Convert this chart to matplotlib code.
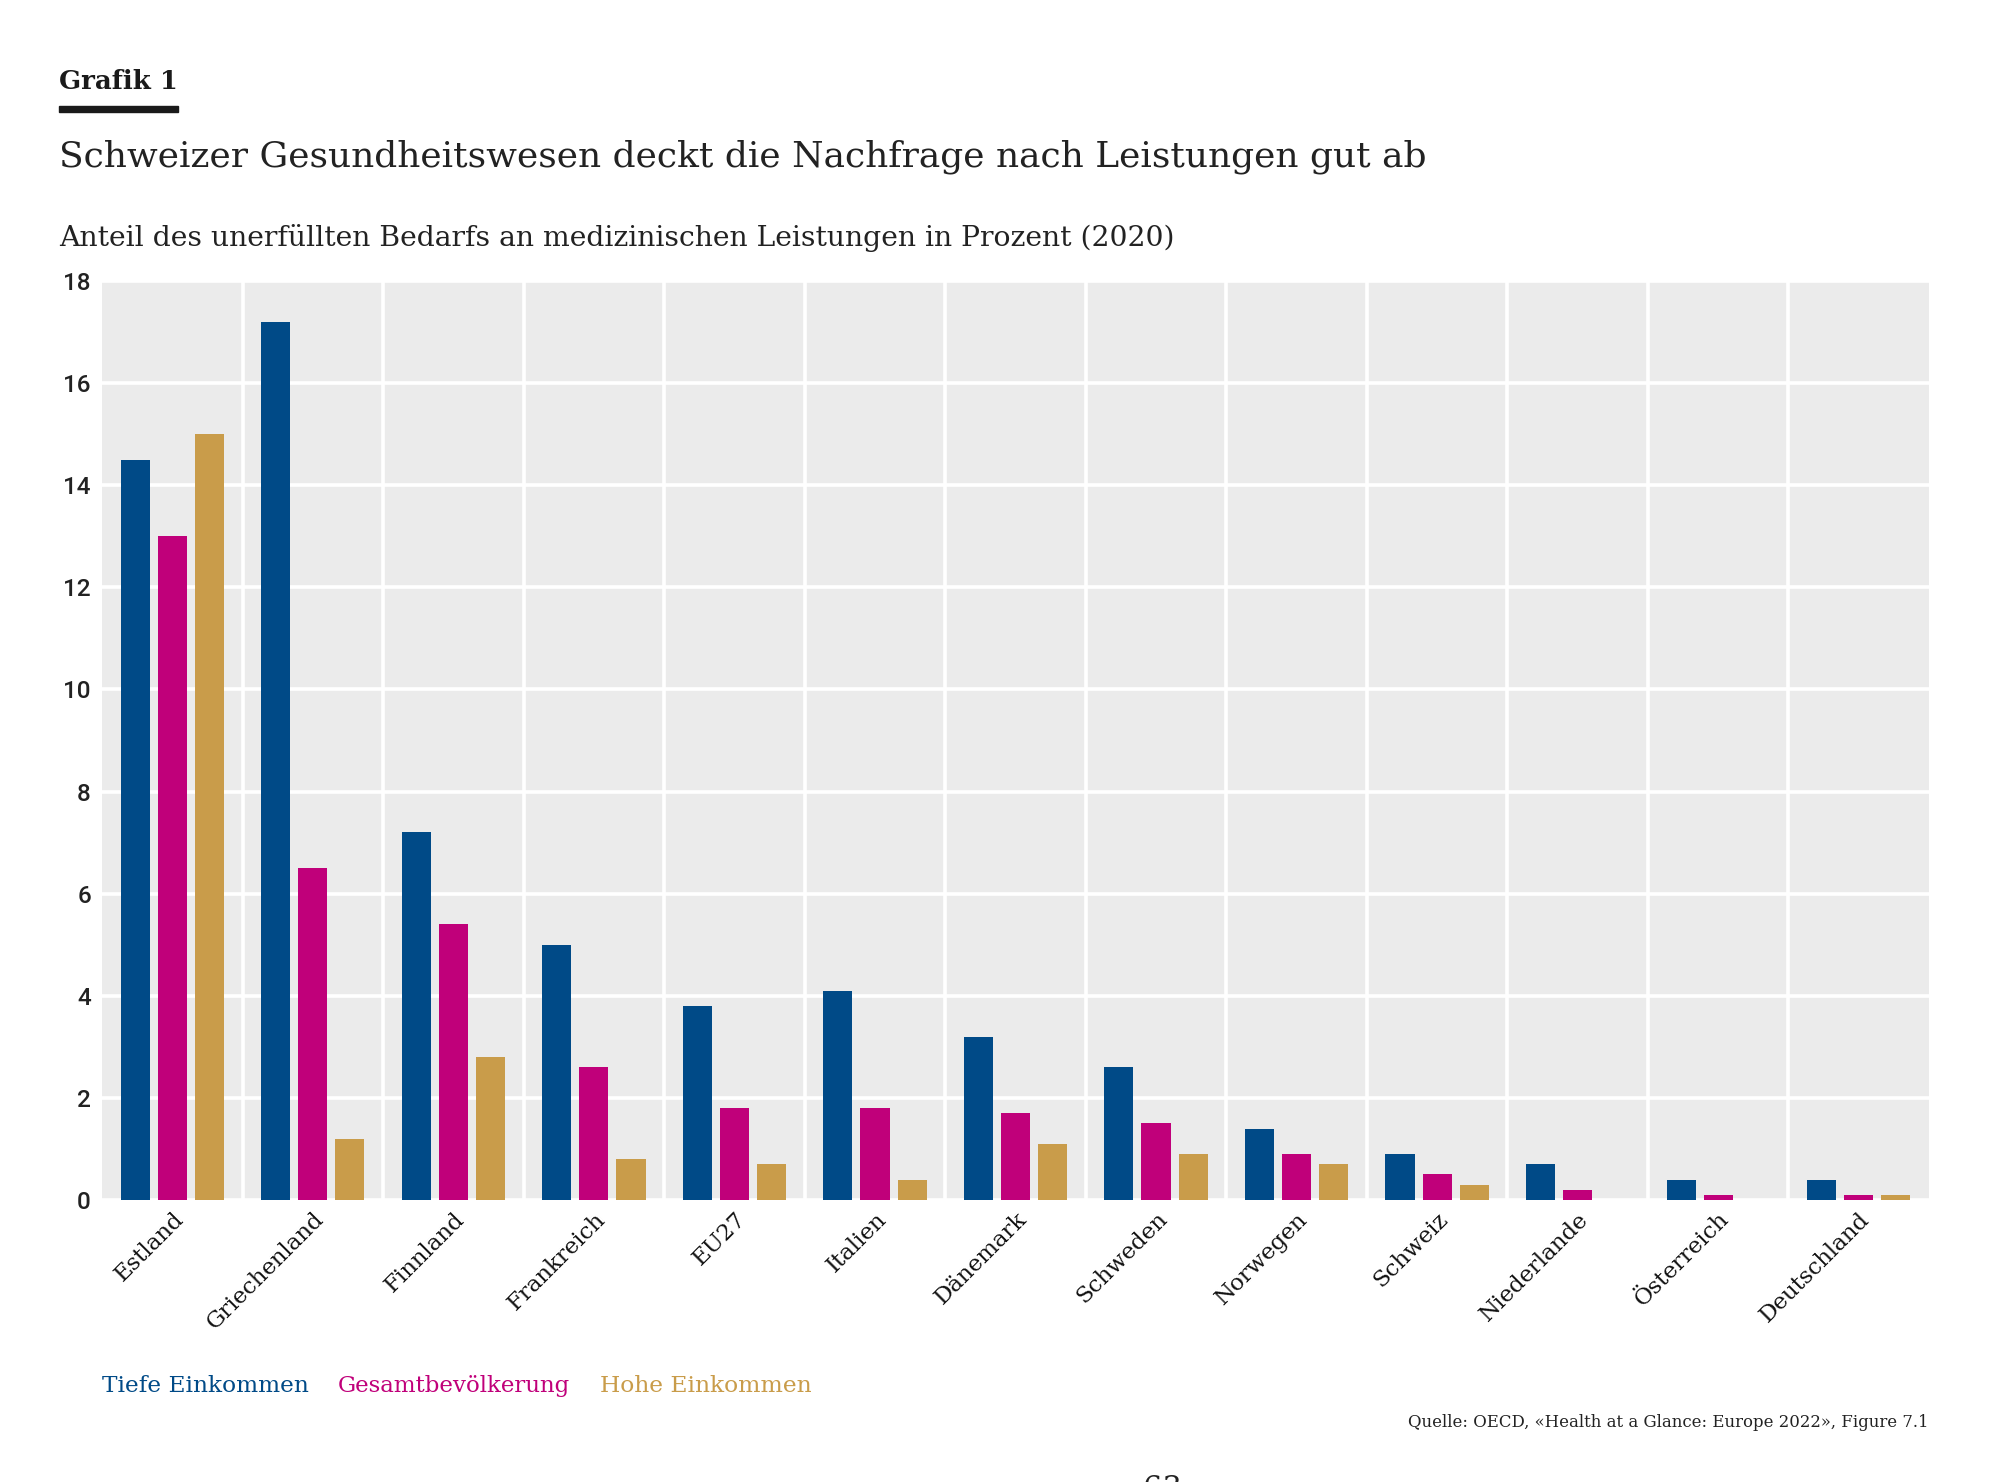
import numpy as np
from matplotlib import pyplot as plt
from matplotlib.transforms import ScaledTranslation

# data
countries = ['Estland', 'Griechenland', 'Finnland', 'Frankreich', 'EU27', 'Italien',
             'Dänemark', 'Schweden', 'Norwegen', 'Schweiz', 'Niederlande',
             'Österreich', 'Deutschland']
tiefe = [14.5, 17.2, 7.2, 5.0, 3.8, 4.1, 3.2, 2.6, 1.4, 0.9, 0.7, 0.4, 0.4]
gesamt = [13.0, 6.5, 5.4, 2.6, 1.8, 1.8, 1.7, 1.5, 0.9, 0.5, 0.2, 0.1, 0.1]
hohe = [15.0, 1.2, 2.8, 0.8, 0.7, 0.4, 1.1, 0.9, 0.7, 0.3, 0.0, 0.0, 0.1]
series_names = ['Tiefe Einkommen', 'Gesamtbevölkerung', 'Hohe Einkommen']
colors = ['#004a87', '#c0007a', '#c99c4a']
y_ticks = list(range(0, 19, 2))

W, H = 2000, 1482
SERIF = ['DejaVu Serif']
SANS = ['Roboto', 'DejaVu Sans']

fig = plt.figure(figsize=(W / 100, H / 100), dpi=100)
renderer = fig.canvas.get_renderer()


def px(x, y):
    return x / W, 1 - y / H


def fit_text(x, y, s, width, ha='left', **kw):
    t = fig.text(*px(x, y), s, ha=ha, va='baseline', **kw)
    w = t.get_window_extent(renderer).width
    t.set_fontsize(t.get_fontsize() * width / w)
    return t


ax = fig.add_axes([102 / W, 1 - 1200 / H, (1929 - 102) / W, (1200 - 281) / H])
ax.set_facecolor('#ebebeb')

x = np.arange(len(countries))
offsets = [-0.264, 0.0, 0.264]
for vals, off, col, name in zip([tiefe, gesamt, hohe], offsets, colors, series_names):
    ax.bar(x + off, vals, width=0.207, color=col, label=name, zorder=3)

ax.set_xlim(-0.5, len(countries) - 0.5)
ax.set_ylim(0, 18)
ax.set_yticks(y_ticks)
ax.set_yticklabels([str(v) for v in y_ticks], family=SANS, fontsize=17.5,
                   fontweight='medium', color='#222222')
ax.set_xticks(x)
ax.set_xticklabels(countries, rotation=45, ha='right', rotation_mode='anchor',
                   family=SERIF, fontsize=16.5, color='#111111')
shift = ScaledTranslation(-6 / 100, 0, fig.dpi_scale_trans)
for lab in ax.get_xticklabels():
    lab.set_transform(lab.get_transform() + shift)
ax.set_xticks(x[:-1] + 0.5, minor=True)
ax.tick_params(axis='both', which='both', length=0)
ax.tick_params(axis='x', pad=6)
ax.tick_params(axis='y', pad=8)
ax.grid(axis='y', which='major', color='white', linewidth=2.6, zorder=1)
ax.grid(axis='x', which='minor', color='white', linewidth=2.6, zorder=1)
ax.grid(axis='x', which='major', visible=False)
ax.set_axisbelow(True)
for sp in ax.spines.values():
    sp.set_visible(False)

# header
fit_text(59, 89, 'Grafik 1', 119, family=SERIF, fontweight='bold', fontsize=20,
         color='#1a1a1a')
fig.patches.append(plt.Rectangle(px(59, 112), 119 / W, 6 / H, transform=fig.transFigure,
                                 color='#1a1a1a', figure=fig))
fit_text(59, 166, 'Schweizer Gesundheitswesen deckt die Nachfrage nach Leistungen gut ab',
         1367, family=SERIF, fontsize=28, color='#222222')
fit_text(59, 246, 'Anteil des unerfüllten Bedarfs an medizinischen Leistungen in Prozent (2020)',
         1118, family=SERIF, fontsize=22, color='#222222')

# legend as coloured words
legend_x = [102, 338, 600]
legend_w = [207, 233, 212]
for lx, lw, name, col in zip(legend_x, legend_w, series_names, colors):
    fit_text(lx, 1392, name, lw, family=SERIF, fontsize=16, color=col)

fit_text(1929, 1427, 'Quelle: OECD, «Health at a Glance: Europe 2022», Figure 7.1', 519,
         ha='right', family=SERIF, fontsize=12, color='#222222')

# page number, mostly cut off at the bottom edge as in the source page
fig.text(*px(1162, 1474), '63', ha='center', va='top', family=SERIF, fontsize=22,
         color='#222222')

fig.savefig('out.png', dpi=100, facecolor='white')
